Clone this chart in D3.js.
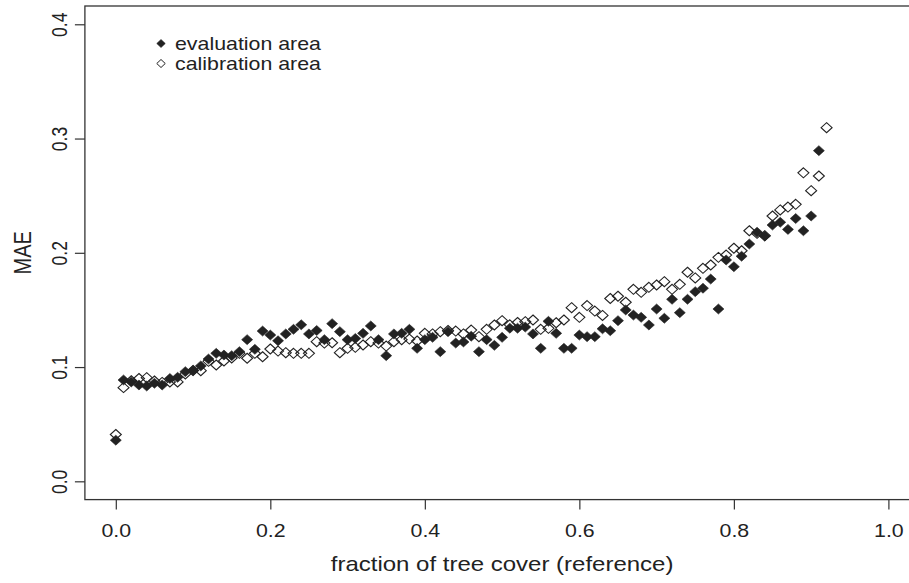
<!DOCTYPE html>
<html>
<head>
<meta charset="utf-8">
<script src="https://cdn.jsdelivr.net/npm/d3@7"></script>
<style>
  html, body { margin: 0; padding: 0; background: #fff; }
  svg { display: block; }
  text { font-family: "Liberation Sans", Arial, Helvetica, sans-serif; fill: #222; }
</style>
</head>
<body>
<svg id="chart" width="909" height="583"></svg>
<script>
// ---------- data ----------
const treeCoverEval = [0.00,0.01,0.02,0.03,0.04,0.05,0.06,0.07,0.08,0.09,
  0.10,0.11,0.12,0.13,0.14,0.15,0.16,0.17,0.18,0.19,
  0.20,0.21,0.22,0.23,0.24,0.25,0.26,0.27,0.28,0.29,
  0.30,0.31,0.32,0.33,0.34,0.35,0.36,0.37,0.38,0.39,
  0.40,0.41,0.42,0.43,0.44,0.45,0.46,0.47,0.48,0.49,
  0.50,0.51,0.52,0.53,0.54,0.55,0.56,0.57,0.58,0.59,
  0.60,0.61,0.62,0.63,0.64,0.65,0.66,0.67,0.68,0.69,
  0.70,0.71,0.72,0.73,0.74,0.75,0.76,0.77,0.78,0.79,
  0.80,0.81,0.82,0.83,0.84,0.85,0.86,0.87,0.88,0.89,
  0.90,0.91];
const maeEval = [0.036,0.0887,0.087,0.0843,0.0834,0.0858,0.0843,0.090,0.091,0.096,
  0.097,0.101,0.107,0.112,0.1105,0.110,0.1135,0.124,0.1155,0.1315,
  0.128,0.123,0.129,0.133,0.137,0.129,0.132,0.124,0.138,0.131,
  0.124,0.125,0.1295,0.136,0.124,0.110,0.129,0.1295,0.133,0.1164,
  0.124,0.126,0.1135,0.131,0.121,0.122,0.127,0.1135,0.124,0.119,
  0.126,0.134,0.134,0.135,0.129,0.1164,0.140,0.1295,0.1164,0.1164,
  0.128,0.1266,0.1266,0.1335,0.1318,0.1406,0.150,0.1455,0.1435,0.1368,
  0.1508,0.1427,0.1593,0.1476,0.1593,0.166,0.169,0.177,0.1508,0.1937,
  0.1878,0.197,0.2077,0.218,0.2147,0.2243,0.2267,0.2205,0.230,0.2193,
  0.2322,0.2894];
const treeCoverCal = [0.00,0.01,0.02,0.03,0.04,0.05,0.06,0.07,0.08,0.09,
  0.10,0.11,0.12,0.13,0.14,0.15,0.16,0.17,0.18,0.19,
  0.20,0.21,0.22,0.23,0.24,0.25,0.26,0.27,0.28,0.29,
  0.30,0.31,0.32,0.33,0.34,0.35,0.36,0.37,0.38,0.39,
  0.40,0.41,0.42,0.43,0.44,0.45,0.46,0.47,0.48,0.49,
  0.50,0.51,0.52,0.53,0.54,0.55,0.56,0.57,0.58,0.59,
  0.60,0.61,0.62,0.63,0.64,0.65,0.66,0.67,0.68,0.69,
  0.70,0.71,0.72,0.73,0.74,0.75,0.76,0.77,0.78,0.79,
  0.80,0.81,0.82,0.83,0.84,0.85,0.86,0.87,0.88,0.89,
  0.90,0.91,0.92];
const maeCal = [0.041,0.082,0.088,0.090,0.0907,0.0878,0.0866,0.087,0.087,0.094,
  0.097,0.0968,0.105,0.1018,0.1053,0.108,0.112,0.1077,0.112,0.109,
  0.1158,0.114,0.1126,0.112,0.112,0.112,0.1222,0.121,0.1213,0.1126,
  0.1164,0.1173,0.1193,0.1222,0.121,0.1184,0.1222,0.124,0.1245,0.1228,
  0.1295,0.129,0.131,0.132,0.1315,0.129,0.1324,0.1266,0.133,0.1368,
  0.1406,0.137,0.139,0.1397,0.1412,0.133,0.1339,0.1388,0.1412,0.152,
  0.1435,0.1538,0.149,0.1452,0.160,0.162,0.1567,0.168,0.1654,0.1698,
  0.1718,0.1747,0.168,0.1724,0.183,0.178,0.1864,0.1893,0.196,0.198,
  0.204,0.2018,0.2193,0.217,0.215,0.2322,0.2375,0.240,0.2424,0.270,
  0.2544,0.2672,0.3095];
const xTicks = [0.0, 0.2, 0.4, 0.6, 0.8, 1.0];
const yTicks = [0.0, 0.1, 0.2, 0.3, 0.4];
const legendLabels = ["evaluation area", "calibration area"];
const xTitle = "fraction of tree cover (reference)";
const yTitle = "MAE";

// ---------- layout ----------
const svg = d3.select("#chart");
const SX = 1.22;           // horizontal stretch of the original raster text
const ink = "#222";
const x = d3.scaleLinear().domain([-0.04, 1.04]).range([84.9, 919.3]);
const y = d3.scaleLinear().domain([-0.016, 0.416]).range([499.6, 6.0]);
const fmt = d3.format(".1f");

// box
svg.append("rect")
  .attr("x", x(-0.04)).attr("y", y(0.416))
  .attr("width", x(1.04) - x(-0.04)).attr("height", y(-0.016) - y(0.416))
  .attr("fill", "none").attr("stroke", "#333").attr("stroke-width", 1.3);

// x axis
const gx = svg.append("g").attr("transform", `translate(0,${y(-0.016)})`)
  .call(d3.axisBottom(x).tickValues(xTicks).tickSize(10).tickFormat(fmt));
gx.select(".domain").remove();
gx.selectAll(".tick line").attr("stroke", "#333").attr("stroke-width", 1.2);
gx.selectAll(".tick text")
  .attr("y", 0).attr("dy", null)
  .attr("transform", `translate(0,37) scale(${SX},1)`)
  .attr("font-size", 17.5).attr("fill", ink)
  .style("font-family", '"Liberation Sans", Arial, sans-serif');

// y axis
const gy = svg.append("g").attr("transform", `translate(${x(-0.04)},0)`)
  .call(d3.axisLeft(y).tickValues(yTicks).tickSize(10).tickFormat(fmt));
gy.select(".domain").remove();
gy.selectAll(".tick line").attr("stroke", "#333").attr("stroke-width", 1.2);
gy.selectAll(".tick text")
  .attr("x", 0).attr("dy", null).attr("y", 0)
  .attr("text-anchor", "middle")
  .attr("transform", `translate(-17.5,0) scale(${SX},1) rotate(-90)`)
  .attr("font-size", 17.5).attr("fill", ink)
  .style("font-family", '"Liberation Sans", Arial, sans-serif');

// axis titles
svg.append("text")
  .attr("text-anchor", "middle")
  .attr("transform", `translate(${(x(-0.04) + x(1.04)) / 2},571) scale(1.2,1)`)
  .attr("font-size", 20).text(xTitle);
svg.append("text")
  .attr("text-anchor", "middle")
  .attr("transform", `translate(31,${(y(-0.016) + y(0.416)) / 2}) scale(${SX},1) rotate(-90)`)
  .attr("font-size", 20).text(yTitle);

// markers
const diamond = (w, h) => `M0,${-h/2}L${w/2},0L0,${h/2}L${-w/2},0Z`;
const calData = treeCoverCal.map((t, i) => ({ t, v: maeCal[i] }));
const evalData = treeCoverEval.map((t, i) => ({ t, v: maeEval[i] }));

svg.append("g").selectAll("path").data(calData).join("path")
  .attr("d", diamond(11, 10))
  .attr("transform", d => `translate(${x(d.t)},${y(d.v)})`)
  .attr("fill", "none").attr("stroke", ink).attr("stroke-width", 1.1);

svg.append("g").selectAll("path").data(evalData).join("path")
  .attr("d", diamond(11, 10))
  .attr("transform", d => `translate(${x(d.t)},${y(d.v)})`)
  .attr("fill", ink).attr("stroke", ink).attr("stroke-width", 0.6);

// legend
const lg = svg.append("g");
legendLabels.forEach((lab, i) => {
  const cy = 43.5 + i * 20;
  lg.append("path").attr("d", diamond(8.5, 8))
    .attr("transform", `translate(161,${cy})`)
    .attr("fill", i === 0 ? ink : "none")
    .attr("stroke", ink).attr("stroke-width", i === 0 ? 0.6 : 1);
  lg.append("text")
    .attr("transform", `translate(175,${cy + 6}) scale(${SX},1)`)
    .attr("font-size", 17.5).text(lab);
});
</script>
</body>
</html>
